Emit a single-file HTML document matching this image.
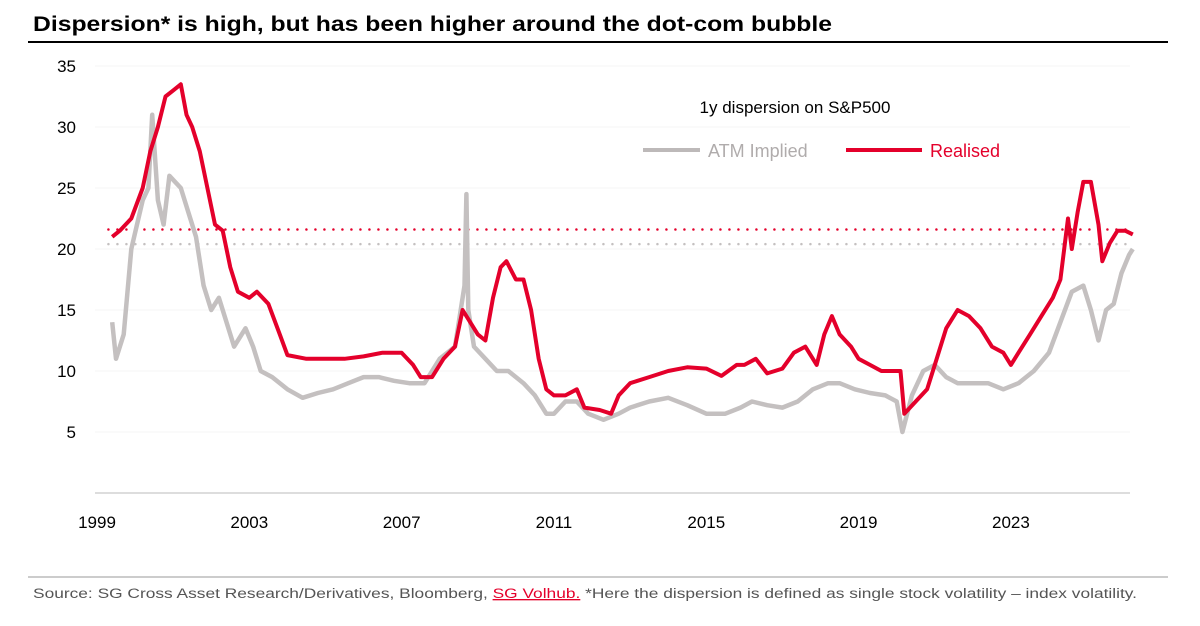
<!DOCTYPE html>
<html><head><meta charset="utf-8"><style>
body{margin:0;background:#fff;}
svg{display:block;font-family:"Liberation Sans",sans-serif;}
</style></head><body>
<svg id="chart" width="1200" height="626" viewBox="0 0 1200 626">
<rect width="1200" height="626" fill="#fff"/>
<text x="33" y="31" font-size="21" font-weight="bold" fill="#000" textLength="799" lengthAdjust="spacingAndGlyphs">Dispersion* is high, but has been higher around the dot-com bubble</text>
<line x1="28" y1="42" x2="1168" y2="42" stroke="#000" stroke-width="2"/>
<g id="grid"></g>
<g id="yticks"></g>
<g id="xticks"></g>
<g id="refs"></g>
<g id="series"></g>
<text x="795" y="113" font-size="17" text-anchor="middle" fill="#000">1y dispersion on S&amp;P500</text>
<g>
<line x1="643" y1="150" x2="700" y2="150" stroke="#bdb9b9" stroke-width="4"/>
<text x="708" y="157" font-size="18" fill="#b0acac">ATM Implied</text></g>
<g>
<line x1="846" y1="150" x2="922" y2="150" stroke="#e4002b" stroke-width="4"/>
<text x="930" y="157" font-size="18" fill="#e4002b">Realised</text></g>
<line x1="28" y1="577" x2="1168" y2="577" stroke="#999" stroke-width="1"/>
<text x="33" y="598" font-size="13.5" fill="#555" textLength="1104" lengthAdjust="spacingAndGlyphs">Source: SG Cross Asset Research/Derivatives, Bloomberg, <tspan fill="#e4002b" text-decoration="underline">SG Volhub.</tspan> *Here the dispersion is defined as single stock volatility – index volatility.</text>
</svg>
<script>
const yTicks=[5,10,15,20,25,30,35];
const xTickYears=[1999,2003,2007,2011,2015,2019,2023];
const realisedLevel=21.6;
const impliedLevel=20.4;
const realisedT=[1999.4,1999.6,1999.9,2000.2,2000.4,2000.6,2000.8,2001.0,2001.2,2001.35,2001.5,2001.7,2001.9,2002.1,2002.3,2002.5,2002.7,2003.0,2003.2,2003.5,2003.8,2004.0,2004.5,2005.0,2005.5,2006.0,2006.5,2007.0,2007.3,2007.5,2007.8,2008.1,2008.4,2008.6,2008.8,2009.0,2009.2,2009.4,2009.6,2009.75,2010.0,2010.2,2010.4,2010.6,2010.8,2011.0,2011.3,2011.6,2011.8,2012.2,2012.5,2012.7,2013.0,2013.5,2014.0,2014.5,2015.0,2015.4,2015.8,2016.0,2016.3,2016.6,2017.0,2017.3,2017.6,2017.9,2018.1,2018.3,2018.5,2018.8,2019.0,2019.3,2019.6,2019.9,2020.1,2020.2,2020.5,2020.8,2021.0,2021.3,2021.6,2021.9,2022.2,2022.5,2022.8,2023.0,2023.2,2023.5,2023.8,2024.1,2024.3,2024.4,2024.5,2024.6,2024.75,2024.9,2025.1,2025.3,2025.4,2025.6,2025.8,2026.0,2026.2];
const realisedV=[21,21.5,22.5,25,28,30,32.5,33,33.5,31,30,28,25,22,21.5,18.5,16.5,16,16.5,15.5,13,11.3,11,11,11,11.2,11.5,11.5,10.5,9.5,9.5,11,12,15,14,13,12.5,16,18.5,19,17.5,17.5,15,11,8.5,8,8,8.5,7,6.8,6.5,8,9,9.5,10,10.3,10.2,9.6,10.5,10.5,11,9.8,10.2,11.5,12,10.5,13,14.5,13,12,11,10.5,10,10,10,6.5,7.5,8.5,10.5,13.5,15,14.5,13.5,12,11.5,10.5,11.5,13,14.5,16,17.5,20,22.5,20,23,25.5,25.5,22,19,20.5,21.5,21.5,21.2];
const impliedT=[1999.4,1999.5,1999.7,1999.9,2000.2,2000.35,2000.45,2000.6,2000.75,2000.9,2001.2,2001.4,2001.6,2001.8,2002.0,2002.2,2002.4,2002.6,2002.9,2003.1,2003.3,2003.6,2004.0,2004.4,2004.8,2005.2,2005.6,2006.0,2006.4,2006.8,2007.2,2007.6,2008.0,2008.4,2008.65,2008.7,2008.75,2008.9,2009.2,2009.5,2009.8,2010.2,2010.5,2010.8,2011.0,2011.3,2011.6,2011.9,2012.3,2012.7,2013.0,2013.5,2014.0,2014.5,2015.0,2015.5,2015.9,2016.2,2016.6,2017.0,2017.4,2017.8,2018.2,2018.5,2018.9,2019.3,2019.7,2020.0,2020.15,2020.4,2020.7,2021.0,2021.3,2021.6,2022.0,2022.4,2022.8,2023.2,2023.6,2024.0,2024.3,2024.6,2024.9,2025.1,2025.3,2025.5,2025.7,2025.9,2026.1,2026.2];
const impliedV=[14,11,13,20,24,25,31,24,22,26,25,23,21,17,15,16,14,12,13.5,12,10,9.5,8.5,7.8,8.2,8.5,9,9.5,9.5,9.2,9,9,11,12,17,24.5,15,12,11,10,10,9,8,6.5,6.5,7.5,7.5,6.5,6,6.5,7,7.5,7.8,7.2,6.5,6.5,7,7.5,7.2,7,7.5,8.5,9,9,8.5,8.2,8,7.5,5,8,10,10.5,9.5,9,9,9,8.5,9,10,11.5,14,16.5,17,15,12.5,15,15.5,18,19.5,20];

const NS="http://www.w3.org/2000/svg";
const X0=97,PXY=38.08,Y0=493,PXV=12.2;
function xs(t){return X0+(t-1999)*PXY;}
function ys(v){return Y0-v*PXV;}
function mk(tag,attrs,parent){const e=document.createElementNS(NS,tag);for(const k in attrs)e.setAttribute(k,attrs[k]);parent.appendChild(e);return e;}
const grid=document.getElementById('grid'),yt=document.getElementById('yticks'),xt=document.getElementById('xticks'),refs=document.getElementById('refs'),ser=document.getElementById('series');
yTicks.forEach(v=>{
  const g=mk('line',{x1:95,x2:1130,y1:ys(v),y2:ys(v),stroke:'#f5f5f5','stroke-width':1},grid);
  
  
  const t=mk('text',{x:76,y:ys(v)+6,'font-size':17,'text-anchor':'end',fill:'#000'},yt);
  t.textContent=v;
  
  
});
const ax=mk('line',{x1:95,x2:1130,y1:Y0,y2:Y0,stroke:'#bbb','stroke-width':1},xt);


xTickYears.forEach(y=>{
  const t=mk('text',{x:xs(y),y:528,'font-size':17,'text-anchor':'middle',fill:'#000'},xt);
  t.textContent=y;
  
  
});
const r1=mk('line',{x1:xs(1999.3),x2:xs(2026.2),y1:ys(realisedLevel),y2:ys(realisedLevel),stroke:'#e4002b','stroke-width':2.5,'stroke-dasharray':'0 9','stroke-linecap':'round'},refs);


const r2=mk('line',{x1:xs(1999.3),x2:xs(2026.2),y1:ys(impliedLevel),y2:ys(impliedLevel),stroke:'#c4c0c0','stroke-width':2.5,'stroke-dasharray':'0 9','stroke-linecap':'round'},refs);


function path(T,V){return T.map((t,i)=>(i?'L':'M')+xs(t).toFixed(1)+','+ys(V[i]).toFixed(1)).join('');}
const pi=mk('path',{d:path(impliedT,impliedV),fill:'none',stroke:'#c4c0c0','stroke-width':4.5,'stroke-linejoin':'round'},ser);


const pr=mk('path',{d:path(realisedT,realisedV),fill:'none',stroke:'#e4002b','stroke-width':4,'stroke-linejoin':'round'},ser);


</script>
</body></html>
